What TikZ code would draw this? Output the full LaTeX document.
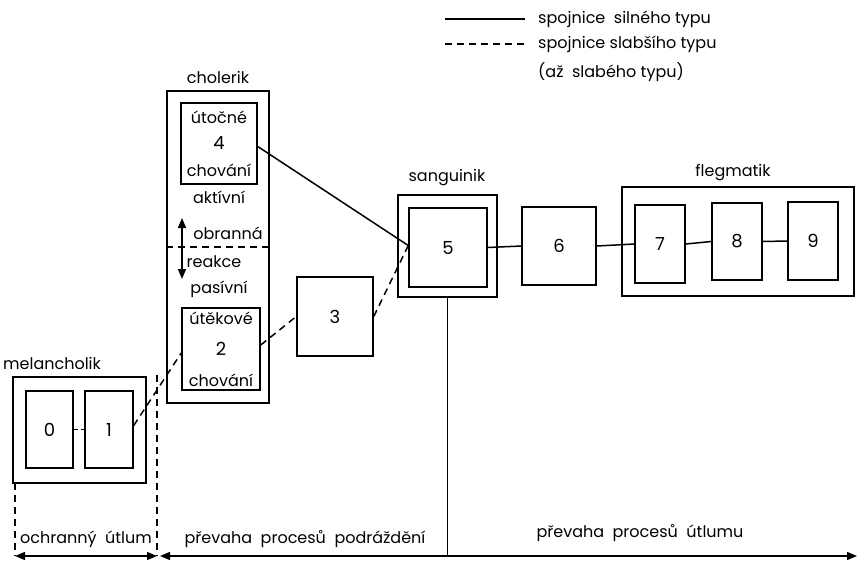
\documentclass[tikz,border=0pt]{standalone}
\usepackage{fontspec}
\setmainfont{Poppins}
\usetikzlibrary{arrows.meta}
\begin{document}
\begin{tikzpicture}[x=1pt,y=-1pt,
  every node/.style={font=\fontsize{16}{18}\selectfont, inner sep=0pt},
  box/.style={draw, line width=1.5pt, minimum width=#1, font=\fontsize{18}{20}\selectfont},
  lw/.style={line width=1.5pt},
  dsh/.style={line width=1.5pt, dash pattern=on 7pt off 5pt},
  tri/.style={{Triangle[length=10pt,width=8pt]}-{Triangle[length=10pt,width=8pt]}}
]
\useasboundingbox (0,0) rectangle (859,563);
% legend
\coordinate (lg1a) at (445,19); \coordinate (lg1b) at (525,19);
\coordinate (lg2a) at (445,44); \coordinate (lg2b) at (525,44);
\draw[lw] (lg1a) -- (lg1b);
\draw[dsh] (lg2a) -- (lg2b);
\node[anchor=west] (leg1) at (538,19) {spojnice\ \ silného typu};
\node[anchor=west] (leg2) at (538,44) {spojnice slabšího typu};
\node[anchor=west] (leg3) at (538,72) {(až\ \ slabého typu)};

% melancholik
\node[box=133pt, minimum height=106pt] (melO) at (79.5,430) {};
\node[anchor=west] (melL) at (3,363) {melancholik};
\node[box=47pt, minimum height=77pt] (b0) at (49.5,429.5) {0};
\node[box=48pt, minimum height=77pt] (b1) at (109,429.5) {1};

% cholerik
\node[box=102pt, minimum height=312pt] (cholO) at (218,247) {};
\node (cholL) at (218,77) {cholerik};
\node[box=76pt, minimum height=81pt] (b4) at (219,143.5) {4};
\node (t4a) at (219,117) {útočné};
\node (t4b) at (219,170) {chování};
\node (akt) at (219,197) {aktívní};
\node (obr) at (228,233) {obranná};
\node (rea) at (214,262) {reakce};
\node (pas) at (219,289) {pasívní};
\coordinate (arrT) at (182,218); \coordinate (arrB) at (182,279);
\draw[lw, tri] (arrT) -- (arrB);
\draw[dsh] (cholO.west |- 0,247) -- (cholO.east |- 0,247);
\node[box=78pt, minimum height=82pt] (b2) at (221,349) {2};
\node (t2a) at (221,318) {útěkové};
\node (t2b) at (221,380) {chování};

% 3
\node[box=76pt, minimum height=79pt] (b3) at (335,316.5) {3};

% sanguinik
\node[box=99pt, minimum height=102pt] (sanO) at (447.5,246) {};
\node (sanL) at (447,178) {sanguinik};
\node[box=78pt, minimum height=79pt] (b5) at (448,247.5) {5};

% 6
\node[box=74pt, minimum height=78pt] (b6) at (559,246) {6};

% flegmatik
\node[box=232pt, minimum height=109pt] (flO) at (738,241.5) {};
\node (flL) at (733,173) {flegmatik};
\node[box=50pt, minimum height=78pt] (b7) at (660,244) {7};
\node[box=50pt, minimum height=77pt] (b8) at (737,241.5) {8};
\node[box=50pt, minimum height=78pt] (b9) at (813,241) {9};

% connectors
\draw[lw, dash pattern=on 4pt off 3pt] (b0.east) -- (b1.west);
\draw[dsh] ([yshift=4pt]b1.east) -- ([yshift=-4pt]b2.west);
\draw[dsh] ([yshift=4pt]b2.east) -- (b3.west);
\draw[dsh] (b3.east) -- ([yshift=2pt]b5.west);
\draw[lw] ([yshift=-3pt]b4.east) -- ([yshift=2pt]b5.west);
\draw[lw] (b5.east) -- (b6.west);
\draw[lw] (b6.east) -- (b7.west);
\draw[lw] (b7.east) -- (b8.west);
\draw[lw] (b8.east) -- (b9.west);

% axis
\coordinate (axL) at (15,556);
\coordinate (axM) at (157,556);
\coordinate (axM2) at (160,556);
\coordinate (axR) at (857,556);
\coordinate (dl) at (15,483);
\coordinate (dr) at (157,375);
\draw[dsh] (dl) -- (axL);
\draw[dsh] (dr) -- (axM);
\draw[lw, tri] (axL) -- (axM);
\draw[lw, tri] (axM2) -- (axR);
\draw[lw] (sanO.south) -- (sanO.south |- axR);
\node (ax1) at (86,539) {ochranný\ \ útlum};
\node (ax2) at (305,539) {převaha\ \ procesů\ \ podráždění};
\node (ax3) at (640,533) {převaha\ \ procesů\ \ útlumu};
\end{tikzpicture}
\end{document}
